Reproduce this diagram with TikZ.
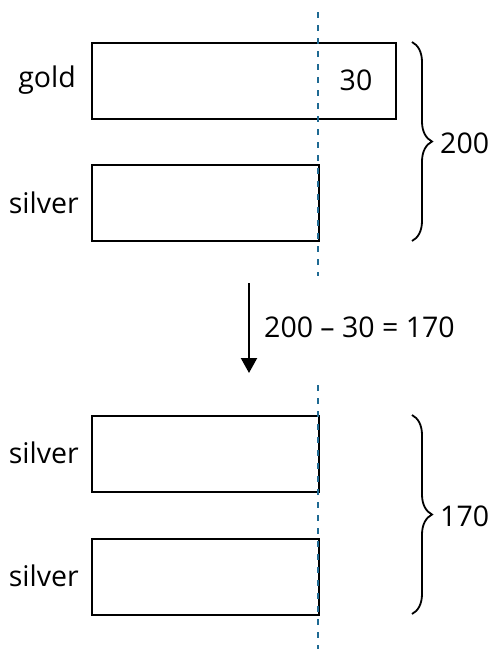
\documentclass[tikz,border=0pt]{standalone}
\usepackage{fontspec}
\setmainfont{Open Sans}
\usetikzlibrary{arrows.meta,decorations.pathreplacing}
\definecolor{guide}{HTML}{1F6A93}
\begin{document}
\begin{tikzpicture}[x=1pt,y=-1pt,
  bar/.style={draw=black,line width=2.2pt,minimum height=76pt,inner sep=0pt,anchor=north west},
  lbl/.style={font=\fontsize{28.5}{32}\selectfont,inner sep=0pt},
  guideline/.style={draw=guide,line width=2.6pt,dash pattern=on 6pt off 7pt},
  bracestyle/.style={decorate,decoration={brace,amplitude=20pt,aspect=0.5},line width=1.8pt},
  flow/.style={-{Triangle[length=15pt,width=16pt]},line width=2.2pt}]
\useasboundingbox (0,0) rectangle (492,649);
% upper group
\node[bar,minimum width=304pt] (gold) at (91,42) {};
\node[bar,minimum width=227pt] (silA) at (91,164) {};
\node[lbl,anchor=east] (tgold) at (76,80) {gold};
\node[lbl,anchor=east] (tsilA) at (79,203) {silver};
\node[lbl] (t30) at (356,80) {30};
% lower group
\node[bar,minimum width=227pt] (silB) at (91,415) {};
\node[bar,minimum width=227pt] (silC) at (91,538) {};
\node[lbl,anchor=east] (tsilB) at (79,453) {silver};
\node[lbl,anchor=east] (tsilC) at (79,576) {silver};
% vertical guide lines
\coordinate (g1) at (318,12);
\coordinate (g2) at (318,276);
\coordinate (g3) at (318,385);
\coordinate (g4) at (318,649);
\draw[guideline] (g1) -- (g2);
\draw[guideline] (g3) -- (g4);
% braces
\coordinate (b1) at (412,42);
\coordinate (b2) at (412,241);
\coordinate (b3) at (412,415);
\coordinate (b4) at (412,614);
\draw[bracestyle] (b1) -- (b2);
\draw[bracestyle] (b3) -- (b4);
\node[lbl,anchor=west] (t200) at (440,143) {200};
\node[lbl,anchor=west] (t170) at (440,516) {170};
% step arrow
\coordinate (a1) at (249,283);
\coordinate (a2) at (249,373);
\draw[flow] (a1) -- (a2);
\node[lbl,anchor=west] (eq) at (264,327) {200 – 30 = 170};
\end{tikzpicture}
\end{document}
